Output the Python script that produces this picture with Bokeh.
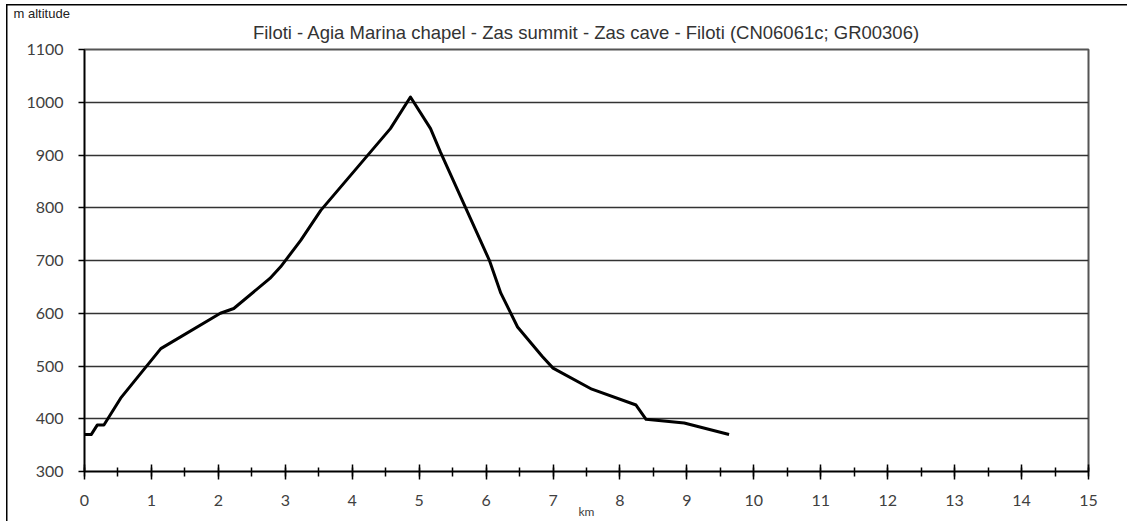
from bokeh.plotting import figure
from bokeh.models import Range1d, SingleIntervalTicker, Title
from bokeh.embed import file_html
from bokeh.resources import INLINE

# ---- data ----
distance_km = [0.0, 0.1, 0.19, 0.29, 0.54, 1.14, 2.03, 2.23, 2.77, 2.93, 3.23, 3.53,
               4.57, 4.87, 5.17, 5.32, 6.05, 6.22, 6.47, 6.84, 7.0, 7.58, 8.24, 8.39,
               8.96, 9.63]
altitude_m = [370, 370, 388, 388, 439, 533, 600, 609, 666, 688, 738, 795,
              950, 1010, 950, 905, 700, 638, 574, 518, 496, 456, 426, 399,
              392, 370]
x_ticks = list(range(0, 16))
y_ticks = list(range(300, 1101, 100))
title_text = "Filoti - Agia Marina chapel - Zas summit - Zas cave - Filoti (CN06061c; GR00306)"
y_label = "m altitude"
x_label = "km"

p = figure(width=1127, height=521, output_backend="svg", toolbar_location=None,
           x_range=Range1d(x_ticks[0], x_ticks[-1]), y_range=Range1d(y_ticks[0], y_ticks[-1]),
           min_border_left=84, min_border_right=39, min_border_top=49, min_border_bottom=49)

# thin outer chart frame (top & left edges) painted behind the transparent canvas border
p.styles = {"background": "linear-gradient(#000,#000) 6px 4px / 100% 1.5px no-repeat, "
                          "linear-gradient(#000,#000) 6px 4px / 1.5px 100% no-repeat, #fff"}

p.background_fill_color = "white"
p.border_fill_alpha = 0
p.outline_line_color = "#555555"
p.outline_line_width = 2

# outer caption "m altitude" (top left) uses the built-in title slot
p.title.text = y_label
p.title.align = "left"
p.title.offset = -71
p.title.text_font = "Liberation Sans"
p.title.text_font_size = "13px"
p.title.text_font_style = "normal"
p.title.text_color = "#222222"
p.title.standoff = -16

# main title, closest to the plot frame
p.add_layout(Title(text=title_text, align="center", text_font="Liberation Sans",
                   text_font_size="18.5px", text_font_style="normal", text_color="#333333",
                   standoff=14), "above")

# x axis
xa = p.xaxis[0]
xa.ticker = SingleIntervalTicker(interval=1, num_minor_ticks=2)
xa.axis_line_color = "black"
xa.axis_line_width = 1.5
xa.major_tick_line_color = "black"
xa.major_tick_line_width = 1.5
xa.major_tick_in = 7
xa.major_tick_out = 8
xa.minor_tick_line_color = "black"
xa.minor_tick_line_width = 1.5
xa.minor_tick_in = 4
xa.minor_tick_out = 5
xa.major_label_text_font = "Lato"
xa.major_label_text_font_size = "16px"
xa.major_label_text_color = "#404040"
xa.major_label_standoff = 15
xa.axis_label = x_label
xa.axis_label_text_font = "Lato"
xa.axis_label_text_font_size = "12px"
xa.axis_label_text_font_style = "normal"
xa.axis_label_text_color = "#404040"
xa.axis_label_standoff = -5

# y axis
ya = p.yaxis[0]
ya.ticker = SingleIntervalTicker(interval=100, num_minor_ticks=0)
ya.axis_line_color = "black"
ya.axis_line_width = 1.5
ya.major_tick_line_color = "black"
ya.major_tick_line_width = 1.5
ya.major_tick_in = 0
ya.major_tick_out = 6
ya.minor_tick_line_color = None
ya.major_label_text_font = "Lato"
ya.major_label_text_font_size = "16px"
ya.major_label_text_color = "#404040"
ya.major_label_standoff = 15

# grid
p.xgrid.visible = False
p.ygrid.ticker = ya.ticker
p.ygrid.grid_line_color = "#333333"
p.ygrid.grid_line_width = 1.5

# profile line
p.line(distance_km, altitude_m, line_color="black", line_width=3, line_join="round")

open("out.html", "w").write(file_html(p, INLINE))
